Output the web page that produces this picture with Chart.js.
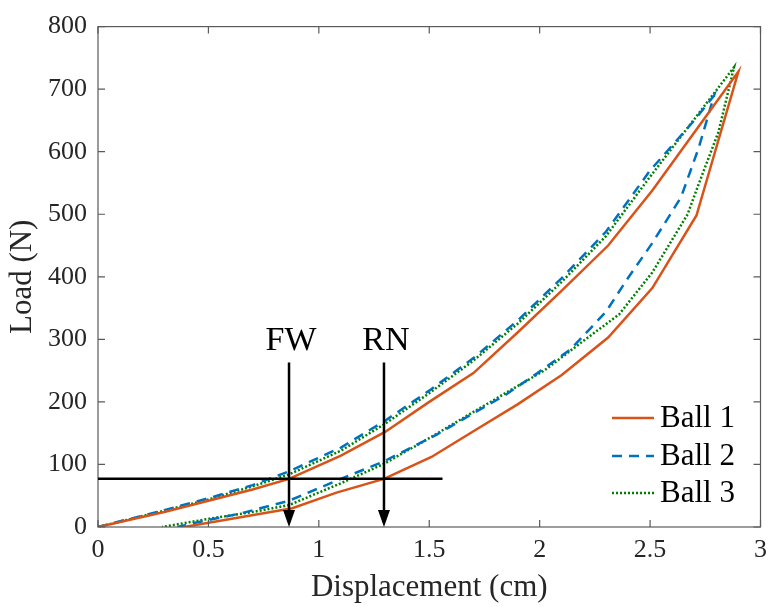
<!DOCTYPE html>
<html>
<head>
<meta charset="utf-8">
<script src="https://cdn.jsdelivr.net/npm/chart.js@4.4.0/dist/chart.umd.min.js"></script>
<style>
  html, body { margin: 0; padding: 0; background: #fff; }
  #wrap { width: 775px; height: 607px; }
</style>
</head>
<body>
<div id="wrap"><canvas id="loadChart" width="775" height="607"></canvas></div>
<script>
// Load–displacement loops, loading branch then unloading branch for each ball
const ball1LoadX   = [0, 0.3, 0.5, 0.7, 0.865, 1.1, 1.3, 1.5, 1.7, 1.9, 2.1, 2.31, 2.51, 2.76, 2.9];
const ball1LoadY   = [0, 24, 42, 60, 77, 114, 152, 200, 246, 311, 378, 450, 538, 660, 728];
const ball1UnloadX = [2.9, 2.71, 2.51, 2.31, 2.1, 1.9, 1.7, 1.51, 1.295, 1.08, 0.88, 0.39];
const ball1UnloadY = [728, 498, 382, 303, 243, 196, 153, 112, 77, 55, 30, 0];

const ball2LoadX   = [0, 0.3, 0.5, 0.7, 0.865, 1.1, 1.3, 1.5, 1.7, 1.9, 2.1, 2.3, 2.5, 2.7, 2.79];
const ball2LoadY   = [0, 27, 46, 67, 89, 127, 170, 218, 270, 330, 398, 472, 570, 650, 690];
const ball2UnloadX = [2.79, 2.72, 2.64, 2.51, 2.4, 2.3, 2.14, 1.99, 1.84, 1.7, 1.53, 1.295, 1.08, 0.865, 0.65, 0.43, 0.36];
const ball2UnloadY = [690, 606, 527, 454, 398, 344, 284, 246, 210, 182, 147, 105, 74, 42, 22, 6, 0];

const ball3LoadX   = [0, 0.3, 0.5, 0.7, 0.865, 1.1, 1.3, 1.5, 1.7, 1.9, 2.1, 2.3, 2.5, 2.7, 2.88];
const ball3LoadY   = [0, 26, 44, 65, 84, 122, 165, 214, 266, 325, 392, 465, 560, 652, 735];
const ball3UnloadX = [2.88, 2.81, 2.72, 2.67, 2.51, 2.36, 2.2, 2.02, 1.85, 1.7, 1.5, 1.295, 1.1, 0.865, 0.7, 0.5, 0.29];
const ball3UnloadY = [735, 632, 548, 500, 407, 340, 298, 250, 215, 184, 142, 101, 70, 35, 24, 13, 0];

const seriesNames = ["Ball 1", "Ball 2", "Ball 3"];

// reference load line and the two marked displacements
const refLoad = 77;
const refLineEnd = 1.56;
const markerX = [0.865, 1.295];
const markerNames = ["FW", "RN"];
const markerTop = 263;
const markerLabelY = 297;

const xTicks = [0, 0.5, 1, 1.5, 2, 2.5, 3];
const yTicks = [0, 100, 200, 300, 400, 500, 600, 700, 800];

function loop(lx, ly, ux, uy) {
  const pts = lx.map((v, i) => ({ x: v, y: ly[i] }));
  return pts.concat(ux.map((v, i) => ({ x: v, y: uy[i] })));
}

const SERIF = "'Liberation Serif', 'Times New Roman', serif";
const AXIS_COLOR = "#5a5a5a";
const TEXT_COLOR = "#262626";

// box around the axes with inward tick marks on all four sides
const frameTicks = {
  id: "frameTicks",
  afterDatasetsDraw(chart) {
    const { ctx, chartArea: a, scales: { x, y } } = chart;
    const len = 7;
    ctx.save();
    ctx.strokeStyle = AXIS_COLOR;
    ctx.lineWidth = 1.2;
    ctx.strokeRect(a.left, a.top, a.right - a.left, a.bottom - a.top);
    ctx.beginPath();
    xTicks.forEach(v => {
      const px = x.getPixelForValue(v);
      ctx.moveTo(px, a.bottom); ctx.lineTo(px, a.bottom - len);
      ctx.moveTo(px, a.top); ctx.lineTo(px, a.top + len);
    });
    yTicks.forEach(v => {
      const py = y.getPixelForValue(v);
      ctx.moveTo(a.left, py); ctx.lineTo(a.left + len, py);
      ctx.moveTo(a.right, py); ctx.lineTo(a.right - len, py);
    });
    ctx.stroke();
    ctx.restore();
  }
};

// horizontal load line, downward arrows and their labels
const markers = {
  id: "markers",
  afterDatasetsDraw(chart) {
    const { ctx, scales: { x, y } } = chart;
    ctx.save();
    ctx.strokeStyle = "#000";
    ctx.fillStyle = "#000";
    ctx.lineWidth = 2.5;
    ctx.beginPath();
    ctx.moveTo(x.getPixelForValue(0), y.getPixelForValue(refLoad));
    ctx.lineTo(x.getPixelForValue(refLineEnd), y.getPixelForValue(refLoad));
    ctx.stroke();

    markerX.forEach((v, i) => {
      const px = x.getPixelForValue(v);
      const top = y.getPixelForValue(markerTop);
      const tip = y.getPixelForValue(0);
      ctx.beginPath();
      ctx.moveTo(px, top);
      ctx.lineTo(px, tip - 10);
      ctx.stroke();
      ctx.beginPath();
      ctx.moveTo(px, tip);
      ctx.lineTo(px - 6, tip - 17);
      ctx.lineTo(px + 6, tip - 17);
      ctx.closePath();
      ctx.fill();

      ctx.font = "34px " + SERIF;
      ctx.textAlign = "center";
      ctx.textBaseline = "middle";
      ctx.fillText(markerNames[i], px + 2, y.getPixelForValue(markerLabelY));
    });
    ctx.restore();
  }
};

// legend sitting in the lower right corner of the plot
const cornerLegend = {
  id: "cornerLegend",
  afterDraw(chart) {
    const { ctx } = chart;
    const rowY = [418, 456, 493];
    ctx.save();
    ctx.font = "31px " + SERIF;
    ctx.textAlign = "left";
    ctx.textBaseline = "middle";
    chart.data.datasets.forEach((ds, i) => {
      ctx.strokeStyle = ds.borderColor;
      ctx.lineWidth = ds.borderWidth;
      ctx.setLineDash(ds.borderDash || []);
      ctx.beginPath();
      ctx.moveTo(612, rowY[i]);
      ctx.lineTo(654, rowY[i]);
      ctx.stroke();
      ctx.setLineDash([]);
      ctx.fillStyle = "#000";
      ctx.fillText(ds.label, 660, rowY[i] + 1);
    });
    ctx.restore();
  }
};

const ctx = document.getElementById("loadChart").getContext("2d");
new Chart(ctx, {
  type: "scatter",
  data: {
    datasets: [
      {
        label: seriesNames[0],
        data: loop(ball1LoadX, ball1LoadY, ball1UnloadX, ball1UnloadY),
        borderColor: "#D95319",
        borderWidth: 2.5
      },
      {
        label: seriesNames[1],
        data: loop(ball2LoadX, ball2LoadY, ball2UnloadX, ball2UnloadY),
        borderColor: "#0072BD",
        borderWidth: 2.5,
        borderDash: [10, 7]
      },
      {
        label: seriesNames[2],
        data: loop(ball3LoadX, ball3LoadY, ball3UnloadX, ball3UnloadY),
        borderColor: "#008000",
        borderWidth: 2.5,
        borderDash: [2, 2]
      }
    ]
  },
  options: {
    responsive: false,
    animation: false,
    devicePixelRatio: 1,
    showLine: true,
    elements: {
      point: { radius: 0, hoverRadius: 0 },
      line: { tension: 0, fill: false }
    },
    layout: { padding: { top: 16, right: 5, left: 0, bottom: 0 } },
    plugins: {
      legend: { display: false },
      tooltip: { enabled: false }
    },
    scales: {
      x: {
        type: "linear",
        min: 0,
        max: 3,
        afterFit(scale) { scale.height = 80; },
        afterBuildTicks(scale) { scale.ticks = xTicks.map(v => ({ value: v })); },
        grid: { display: false, drawTicks: false },
        border: { display: false },
        ticks: {
          padding: 8,
          color: TEXT_COLOR,
          font: { family: SERIF, size: 26 },
          maxRotation: 0,
          callback: v => String(v)
        },
        title: {
          display: true,
          text: "Displacement (cm)",
          color: TEXT_COLOR,
          font: { family: SERIF, size: 31 },
          padding: { top: 0, bottom: 1 }
        }
      },
      y: {
        type: "linear",
        min: 0,
        max: 800,
        afterFit(scale) { scale.width = 98; },
        afterBuildTicks(scale) { scale.ticks = yTicks.map(v => ({ value: v })); },
        grid: { display: false, drawTicks: false },
        border: { display: false },
        ticks: {
          padding: 11,
          color: TEXT_COLOR,
          font: { family: SERIF, size: 26 },
          callback: v => String(v)
        },
        title: {
          display: true,
          text: "Load (N)",
          color: TEXT_COLOR,
          font: { family: SERIF, size: 31 },
          padding: { top: 4, bottom: 0 }
        }
      }
    }
  },
  plugins: [frameTicks, markers, cornerLegend]
});
</script>
</body>
</html>
